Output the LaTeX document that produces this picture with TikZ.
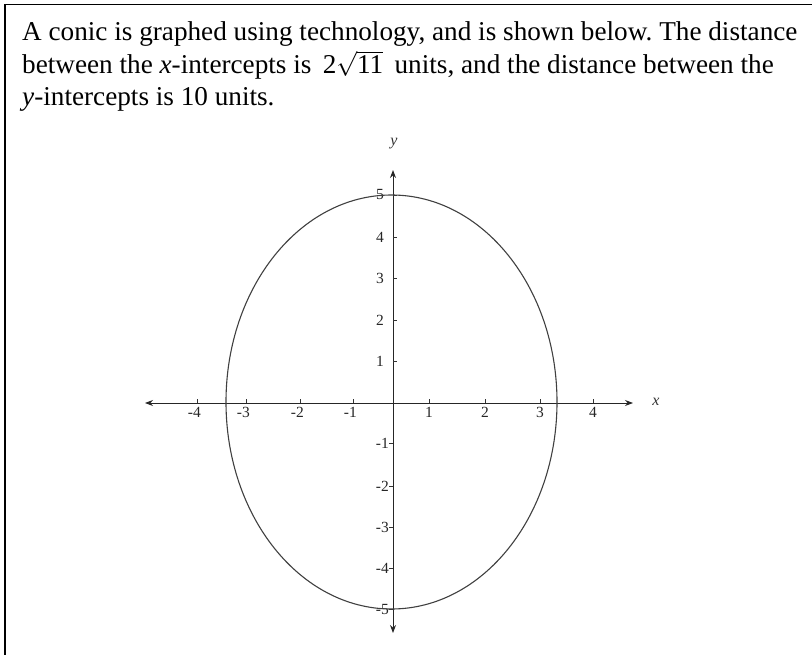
\documentclass[tikz,border=0pt]{standalone}
\usepackage{fontspec}
\setmainfont{Liberation Serif}
\usetikzlibrary{arrows.meta}
\begin{document}
\frenchspacing
\begin{tikzpicture}[x=1pt,y=-1pt,
  frameline/.style={line width=1.6pt,black},
  axisline/.style={line width=1pt,black!85,{Stealth[length=8pt,width=6pt]}-{Stealth[length=8pt,width=6pt]}},
  curve/.style={line width=1.1pt,black!75},
  tickmark/.style={line width=0.9pt,black!80},
  body/.style={anchor=base west,inner sep=0pt,font=\fontsize{27.2}{31}\selectfont},
  lab/.style={inner sep=0pt,font=\fontsize{15.5}{17}\selectfont,text=black!85},
  axname/.style={inner sep=0pt,font=\fontsize{16}{18}\selectfont\itshape,text=black!80}]
\useasboundingbox (0,0) rectangle (812,655);
% frame
\coordinate (fb) at (4.7,655);
\coordinate (ftl) at (4.7,4.7);
\coordinate (fr) at (812,4.7);
\draw[frameline] (fb) -- (ftl) -- (fr);
% text
\node[body] (t1) at (22,41) {A conic is graphed using technology, and is shown below. The distance};
\node[body] (t2) at (22,74) {between the \textit{x}-intercepts is\, 2\smash{$\sqrt{\mbox{11}}$}\, units, and the distance between the};
\node[body] (t3) at (22,106) {\textit{y}-intercepts is 10 units.};
% axes
\coordinate (xl) at (145,403);
\coordinate (xr) at (633,403);
\coordinate (yt) at (393,170);
\coordinate (yb) at (393,633);
\draw[axisline] (xl) -- (xr);
\draw[axisline] (yt) -- (yb);
\node[axname] (xname) at (656,402) {x};
\node[axname] (yname) at (394,144) {y};
% x ticks and labels
\foreach \px/\lbl/\nm in {197/-4/xm4,246/-3/xm3,300/-2/xm2,353/-1/xm1,429/1/xp1,485/2/xp2,540/3/xp3,593/4/xp4}{
  \coordinate (t\nm) at (\px,399);
  \draw[tickmark] (t\nm) -- ++(0,4);
  \node[lab,anchor=north east,xshift=4pt] (\nm) at (\px,407) {\lbl};
}
% y ticks and labels
\foreach \py/\lbl/\nm in {195/5/yp5,237/4/yp4,278/3/yp3,320/2/yp2,361/1/yp1}{
  \coordinate (t\nm) at (393,\py);
  \draw[tickmark] (t\nm) -- ++(4,0);
  \node[lab,anchor=east] (\nm) at (384,\py) {\lbl};
}
\foreach \py/\lbl/\nm in {443/-1/ym1,486/-2/ym2,527/-3/ym3,568/-4/ym4,609/-5/ym5}{
  \coordinate (t\nm) at (393,\py);
  \draw[tickmark] (t\nm) -- ++(-4,0);
  \node[lab,anchor=east] (\nm) at (389,\py) {\lbl};
}
% ellipse
\coordinate (ctr) at (391.5,402);
\draw[curve] (ctr) ellipse [x radius=165.5, y radius=207];
\end{tikzpicture}
\end{document}
